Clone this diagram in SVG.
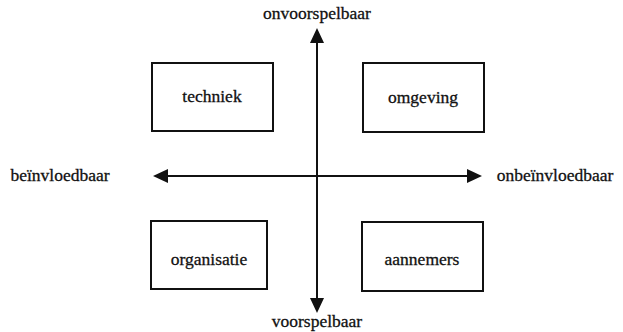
<svg xmlns="http://www.w3.org/2000/svg" width="623" height="332" viewBox="0 0 623 332">
<style>
.box{fill:#fff;stroke:#111;stroke-width:2}
.lbl{font-family:'Liberation Serif','DejaVu Serif',serif;font-size:17.5px;fill:#111;text-anchor:middle;stroke:#111;stroke-width:0.3}
.ax{stroke:#111;stroke-width:2;fill:none}
.head{fill:#111}
</style>
<rect width="623" height="332" fill="#fff"/>
<g id="connectors">
<line class="ax" x1="317" y1="40" x2="317" y2="300"/>
<polygon class="head" points="317,28 310,43 324,43"/>
<polygon class="head" points="317,313 310,298 324,298"/>
<line class="ax" x1="165" y1="176" x2="470" y2="176"/>
<polygon class="head" points="153,176 168,169 168,183"/>
<polygon class="head" points="482,176 467,169 467,183"/>
</g>
<g id="techniek"><rect class="box" x="152" y="63" width="121" height="68"/><text class="lbl" x="212" y="102">techniek</text></g>
<g id="omgeving"><rect class="box" x="363" y="63" width="121" height="69"/><text class="lbl" x="423" y="103">omgeving</text></g>
<g id="organisatie"><rect class="box" x="151" y="221" width="116" height="68"/><text class="lbl" x="209" y="265">organisatie</text></g>
<g id="aannemers"><rect class="box" x="362" y="222" width="121" height="69"/><text class="lbl" x="422" y="265">aannemers</text></g>
<g id="axis-labels">
<text class="lbl" x="317" y="19">onvoorspelbaar</text>
<text class="lbl" x="317" y="327">voorspelbaar</text>
<text class="lbl" x="60" y="181">beïnvloedbaar</text>
<text class="lbl" x="555" y="181">onbeïnvloedbaar</text>
</g>
</svg>
